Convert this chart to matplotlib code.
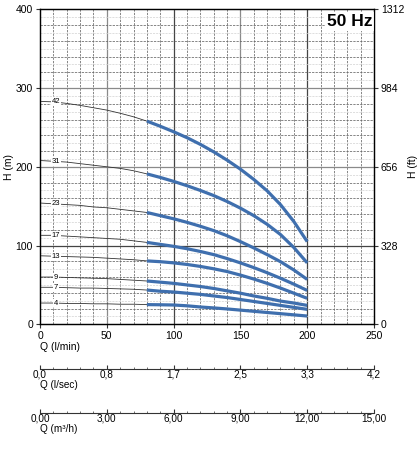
import matplotlib.pyplot as plt
import numpy as np

plt.rcParams["font.family"] = ["Liberation Sans", "DejaVu Sans"]

# flow in l/min
q_thin = [0, 10, 20, 30, 40, 50, 60, 70, 80]
q_blue = [80, 90, 100, 110, 120, 130, 140, 150, 160, 170, 180, 190, 200]

stages = ["42", "31", "23", "17", "13", "9", "7", "4"]

h_thin = {
    "42": [283, 282.5, 280.5, 278, 275, 272, 268, 263.5, 258],
    "31": [208, 207, 206, 204, 202, 200, 198, 195, 191],
    "23": [154, 153, 152, 151, 149, 148, 146, 144, 142],
    "17": [113, 113, 112, 111, 110, 109, 108, 106, 104],
    "13": [87, 86.5, 86, 85.5, 85, 84, 83, 82, 80.5],
    "9": [60, 60, 59.5, 59, 58.5, 58, 57, 56, 55],
    "7": [47, 47, 46.5, 46, 46, 45.5, 45, 44.5, 43.5],
    "4": [27, 27, 26.5, 26.5, 26, 26, 25.5, 25.5, 25],
}

h_blue = {
    "42": [258, 251.5, 244.5, 237, 228.5, 219, 208.5, 197, 184, 169.5, 152, 130.5, 105],
    "31": [191, 186.5, 181.5, 176, 170, 163.5, 156, 147.5, 138, 127, 114, 97.5, 78],
    "23": [142, 138, 134, 129.5, 124.5, 119, 112.5, 105, 97, 88.5, 79.5, 69, 57],
    "17": [104, 101.5, 99, 96, 92.5, 88.5, 83.5, 78, 72, 65.5, 58.5, 51, 43],
    "13": [80.5, 79.5, 78, 76, 73.5, 70.5, 67, 62.5, 57.5, 52, 46, 39.5, 33],
    "9": [55, 53.5, 52, 50, 48, 45.5, 42.5, 39.5, 36, 33, 29.5, 27, 24],
    "7": [43.5, 42, 41, 39.5, 38, 36, 34, 31.5, 29, 26.5, 24, 21.5, 19],
    "4": [25, 24.8, 24.5, 23.5, 22, 20.8, 19.5, 18, 16.5, 15, 13.5, 12, 10.5],
}

q_ticks = [0, 50, 100, 150, 200, 250]
h_ticks = [0, 100, 200, 300, 400]
ft_labels = ["0", "328", "656", "984", "1312"]
lsec_labels = ["0,0", "0,8", "1,7", "2,5", "3,3", "4,2"]
m3h_labels = ["0,00", "3,00", "6,00", "9,00", "12,00", "15,00"]

BLUE = "#3f6fae"
W, H = 418, 450

fig = plt.figure(figsize=(W / 100, H / 100), dpi=100)
ax = fig.add_axes([40 / W, 1 - 324.3 / H, 334 / W, 315 / H])
ax.set_xlim(0, 250)
ax.set_ylim(0, 400)

# grid
for q in range(10, 250, 10):
    if q % 50 == 0:
        ax.axvline(q, color="#8a8a8a" if q % 100 else "#444444", lw=0.9, zorder=1)
    else:
        ax.axvline(q, color="#666666", lw=0.55, ls=(0, (3, 1.5)), zorder=1)
for h in range(10, 400, 10):
    if h % 100 == 0:
        ax.axhline(h, color="#444444" if h == 100 else "#8a8a8a", lw=0.9, zorder=1)
    elif h % 20 == 0:
        ax.axhline(h, color="#666666", lw=0.55, ls=(0, (3, 1.5)), zorder=1)
    else:
        ax.axhline(h, color="#d2d2d2", lw=0.5, ls=(0, (3, 1.5)), zorder=1)

for s in stages:
    ax.plot(q_thin, h_thin[s], color="#333333", lw=0.6, zorder=3)
    ax.plot(q_blue, h_blue[s], color=BLUE, lw=2.3, solid_capstyle="butt", zorder=4)
    ax.text(12, h_thin[s][1], s, fontsize=5.5, ha="center", va="center", zorder=5,
            bbox=dict(facecolor="white", edgecolor="none", pad=0.6))

ax.text(0.995, 0.985, "50 Hz", transform=ax.transAxes, ha="right", va="top",
        fontsize=12.5, fontweight="bold", zorder=6,
        bbox=dict(facecolor="white", edgecolor="none", pad=1.5))

for sp in ax.spines.values():
    sp.set_linewidth(1.0)
    sp.set_color("#222222")

ax.set_xticks(q_ticks)
ax.set_yticks(h_ticks)
ax.tick_params(labelsize=7.5, length=3, width=0.8, color="#333333", pad=2)
ax.set_ylabel("H (m)", fontsize=7.5, labelpad=1)

ax2 = ax.twinx()
ax2.set_ylim(0, 400)
ax2.set_yticks(h_ticks)
ax2.set_yticklabels(ft_labels)
ax2.tick_params(labelsize=7.5, length=3, width=0.8, color="#333333", pad=2)
ax2.set_ylabel("H (ft)", fontsize=7.5, labelpad=3)

fig.text(40 / W, 1 - 346.5 / H, "Q (l/min)", fontsize=7.5, ha="left", va="center")


def flow_axis(y_px, labels, title):
    sub = fig.add_axes([40 / W, 1 - y_px / H, 334 / W, 0.0001])
    sub.set_xlim(0, 250)
    sub.set_ylim(0, 1)
    for name in ("top", "left", "right"):
        sub.spines[name].set_visible(False)
    sub.spines["bottom"].set_linewidth(0.8)
    sub.spines["bottom"].set_color("#333333")
    sub.set_yticks([])
    sub.set_xticks(q_ticks)
    sub.set_xticklabels(labels)
    sub.set_xticks(np.arange(0, 251, 10), minor=True)
    sub.tick_params(axis="x", which="major", direction="in", length=3, width=0.8,
                    labelsize=7.2, pad=0.5, color="#333333")
    sub.tick_params(axis="x", which="minor", direction="in", length=1.5, width=0.6,
                    color="#555555")
    fig.text(40 / W, 1 - (y_px + 16) / H, title, fontsize=7.2, ha="left", va="center")


flow_axis(368.7, lsec_labels, "Q (l/sec)")
flow_axis(412.7, m3h_labels, "Q (m\u00b3/h)")

fig.savefig("out.png", dpi=100)
